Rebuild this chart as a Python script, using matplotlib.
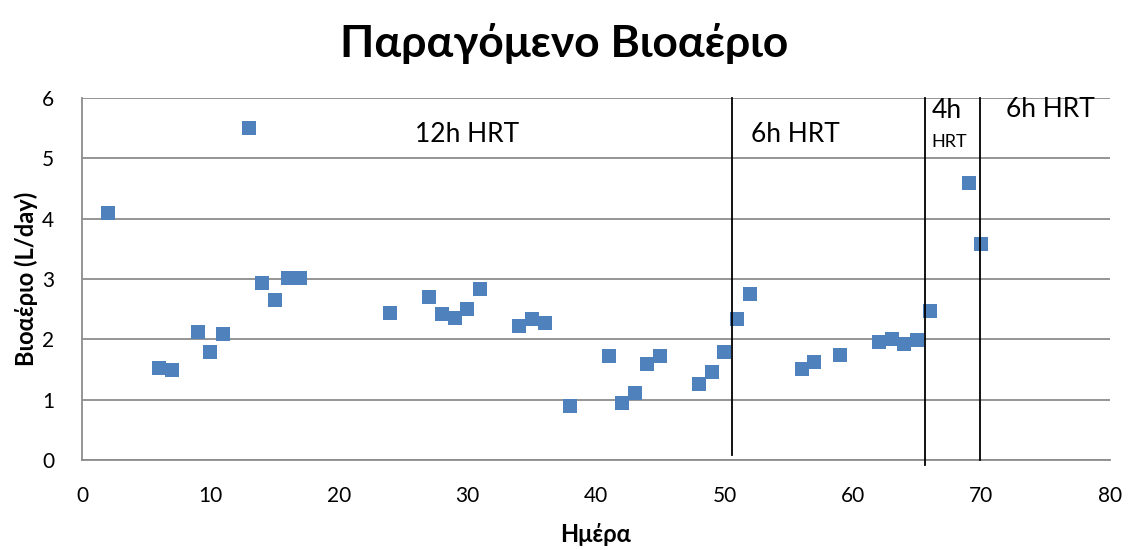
import matplotlib
matplotlib.use("Agg")
import matplotlib.pyplot as plt

days = [2, 6, 7, 9, 10, 11, 13, 14, 15, 16, 17, 24, 27, 28, 29, 30, 31, 34, 35, 36,
        38, 41, 42, 43, 44, 45, 48, 49, 50, 51, 52, 56, 57, 59, 62, 63, 64, 65, 66, 69, 70]
biogas = [4.10, 1.53, 1.49, 2.12, 1.79, 2.09, 5.51, 2.94, 2.65, 3.02, 3.02, 2.44, 2.71, 2.42,
          2.35, 2.50, 2.83, 2.22, 2.34, 2.27, 0.90, 1.72, 0.95, 1.11, 1.59, 1.72, 1.26, 1.46,
          1.79, 2.34, 2.75, 1.51, 1.62, 1.74, 1.96, 2.01, 1.92, 1.99, 2.47, 4.59, 3.58]

phase_lines = [50.6, 65.6, 69.9]
phase_line_bottoms = [0.08, -0.08, 0.0]

plt.rcParams['font.family'] = ['Lato', 'DejaVu Sans']

fig = plt.figure(figsize=(11.28, 5.5), dpi=100)
ax = fig.add_axes([0.0727, 0.1636, 0.9113, 0.6582])

ax.set_xlim(0, 80)
ax.set_ylim(0, 6)
ax.set_xticks(range(0, 81, 10))
ax.set_yticks(range(0, 7))
ax.grid(axis='y', color='#8c8c8c', linewidth=1.3)
ax.set_axisbelow(True)
for s in ['top', 'right']:
    ax.spines[s].set_visible(False)
for s in ['left', 'bottom']:
    ax.spines[s].set_color('#8c8c8c')
    ax.spines[s].set_linewidth(1.3)
ax.tick_params(length=0, labelsize=15)
ax.tick_params(axis='x', pad=19)
ax.tick_params(axis='y', pad=20)

ax.plot(days, biogas, linestyle='none', marker='s', markersize=10, color='#4F81BD',
        markeredgewidth=0, zorder=3, clip_on=False)

for xv, yb in zip(phase_lines, phase_line_bottoms):
    ax.plot([xv, xv], [yb, 6], color='black', linewidth=1.3, clip_on=False, zorder=4)

ax.text(30, 5.4, '12h HRT', fontsize=19, ha='center', va='center')
ax.text(55.5, 5.4, '6h HRT', fontsize=19, ha='center', va='center')
ax.text(66.1, 5.79, '4h', fontsize=19, ha='left', va='center')
ax.text(66.1, 5.27, 'HRT', fontsize=13, ha='left', va='center')
ax.text(75.4, 5.81, '6h HRT', fontsize=19, ha='center', va='center')

ax.set_xlabel('Ημέρα', fontsize=17, fontweight='bold', labelpad=12)
ax.set_ylabel('Βιοαέριο (L/day)', fontsize=17, fontweight='bold', labelpad=3)
fig.suptitle('Παραγόμενο Βιοαέριο', fontsize=32, fontweight='bold', y=0.958)

fig.savefig('out.png', dpi=100)
